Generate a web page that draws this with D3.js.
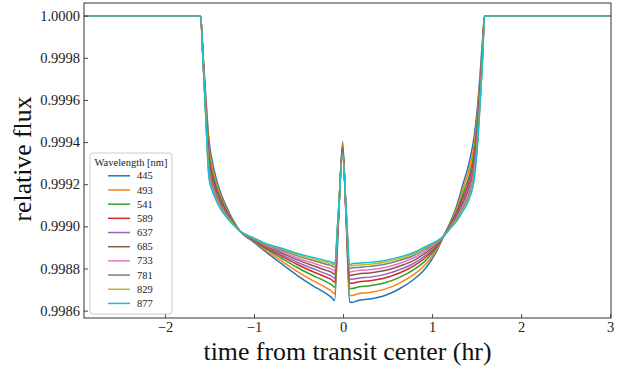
<!DOCTYPE html>
<html>
<head>
<meta charset="utf-8">
<script src="https://cdn.jsdelivr.net/npm/d3@7"></script>
<style>
  body { margin: 0; background: #fff; }
  text { font-family: "Liberation Serif", "DejaVu Serif", serif; }
</style>
</head>
<body>
<script>
// time from transit center (hr), shared by all curves
let time = [-2.91, -1.600, -1.573, -1.551, -1.528, -1.506, -1.472, -1.427, -1.382, -1.315, -1.236, -1.152,
    -1.000, -0.895, -0.700, -0.520, -0.350, -0.180, -0.130, -0.095, -0.055, -0.005, 0.035, 0.075, 0.100, 0.170, 0.300,
    0.470, 0.640, 0.800, 0.920, 1.000, 1.070, 1.130, 1.200, 1.270, 1.348, 1.416, 1.472, 1.506, 1.539,
    1.567, 1.590, 3.01];

let wavelengths = [445, 493, 541, 589, 637, 685, 733, 781, 829, 877];

// relative flux, one list per wavelength
let flux445 = [1, 1, 0.999822, 0.999674, 0.999529, 0.999410, 0.999315, 0.999230, 0.999168, 0.999097, 0.999030, 0.998975,
    0.998924, 0.998888, 0.998825, 0.998769, 0.998721, 0.998678, 0.998663, 0.998648, 0.998983, 0.999402, 0.999027, 0.998641, 0.998639, 0.998648, 0.998655,
    0.998672, 0.998705, 0.998750, 0.998798, 0.998845, 0.998898, 0.998954, 0.999016, 0.999090, 0.999201, 0.999301, 0.999425, 0.999550, 0.999719,
    0.999887, 1, 1];
let flux493 = [1, 1, 0.999815, 0.999661, 0.999503, 0.999377, 0.999289, 0.999211, 0.999153, 0.999088, 0.999026, 0.998975,
    0.998928, 0.998894, 0.998838, 0.998788, 0.998745, 0.998706, 0.998693, 0.998680, 0.998995, 0.999390, 0.999037, 0.998673, 0.998672, 0.998680, 0.998686,
    0.998702, 0.998732, 0.998773, 0.998817, 0.998858, 0.998904, 0.998954, 0.999011, 0.999078, 0.999178, 0.999270, 0.999388, 0.999516, 0.999693,
    0.999869, 1, 1];
let flux541 = [1, 1, 0.999808, 0.999647, 0.999478, 0.999345, 0.999263, 0.999192, 0.999139, 0.999079, 0.999022, 0.998975,
    0.998931, 0.998901, 0.998851, 0.998806, 0.998769, 0.998735, 0.998723, 0.998711, 0.999007, 0.999378, 0.999046, 0.998705, 0.998705, 0.998712, 0.998718,
    0.998732, 0.998759, 0.998796, 0.998835, 0.998872, 0.998911, 0.998954, 0.999006, 0.999065, 0.999155, 0.999239, 0.999351, 0.999482, 0.999667,
    0.999851, 1, 1];
let flux589 = [1, 1, 0.999802, 0.999637, 0.999457, 0.999319, 0.999243, 0.999177, 0.999127, 0.999072, 0.999019, 0.998975,
    0.998934, 0.998905, 0.998861, 0.998820, 0.998787, 0.998757, 0.998747, 0.998736, 0.999016, 0.999368, 0.999053, 0.998730, 0.998730, 0.998736, 0.998742,
    0.998755, 0.998780, 0.998814, 0.998850, 0.998882, 0.998916, 0.998954, 0.999002, 0.999055, 0.999137, 0.999215, 0.999322, 0.999455, 0.999647,
    0.999837, 1, 1];
let flux637 = [1, 1, 0.999798, 0.999630, 0.999443, 0.999301, 0.999229, 0.999166, 0.999119, 0.999067, 0.999017, 0.998975,
    0.998936, 0.998909, 0.998868, 0.998831, 0.998801, 0.998773, 0.998764, 0.998754, 0.999023, 0.999361, 0.999059, 0.998748, 0.998749, 0.998754, 0.998759,
    0.998772, 0.998795, 0.998826, 0.998860, 0.998889, 0.998920, 0.998954, 0.998999, 0.999049, 0.999124, 0.999198, 0.999302, 0.999436, 0.999633,
    0.999827, 1, 1];
let flux685 = [1, 1, 0.999794, 0.999621, 0.999427, 0.999281, 0.999213, 0.999155, 0.999110, 0.999061, 0.999015, 0.998975,
    0.998938, 0.998913, 0.998876, 0.998842, 0.998815, 0.998790, 0.998782, 0.998773, 0.999031, 0.999354, 0.999065, 0.998767, 0.998769, 0.998774, 0.998779,
    0.998790, 0.998812, 0.998840, 0.998872, 0.998898, 0.998924, 0.998954, 0.998996, 0.999041, 0.999110, 0.999179, 0.999279, 0.999415, 0.999617,
    0.999816, 1, 1];
let flux733 = [1, 1, 0.999790, 0.999615, 0.999415, 0.999265, 0.999200, 0.999145, 0.999103, 0.999057, 0.999013, 0.998975,
    0.998940, 0.998916, 0.998883, 0.998851, 0.998827, 0.998804, 0.998797, 0.998789, 0.999037, 0.999348, 0.999069, 0.998783, 0.998785, 0.998790, 0.998794,
    0.998805, 0.998825, 0.998852, 0.998881, 0.998904, 0.998927, 0.998954, 0.998994, 0.999035, 0.999099, 0.999163, 0.999261, 0.999398, 0.999605,
    0.999807, 1, 1];
let flux781 = [1, 1, 0.999786, 0.999608, 0.999402, 0.999249, 0.999187, 0.999136, 0.999096, 0.999052, 0.999011, 0.998975,
    0.998942, 0.998919, 0.998889, 0.998861, 0.998839, 0.998819, 0.998813, 0.998805, 0.999043, 0.999342, 0.999074, 0.998799, 0.998802, 0.998805, 0.998810,
    0.998820, 0.998839, 0.998863, 0.998891, 0.998911, 0.998930, 0.998954, 0.998991, 0.999029, 0.999087, 0.999148, 0.999242, 0.999381, 0.999592,
    0.999798, 1, 1];
let flux829 = [1, 1, 0.999784, 0.999604, 0.999393, 0.999238, 0.999178, 0.999129, 0.999091, 0.999049, 0.999010, 0.998975,
    0.998943, 0.998921, 0.998893, 0.998867, 0.998847, 0.998828, 0.998823, 0.998815, 0.999047, 0.999337, 0.999077, 0.998810, 0.998813, 0.998816, 0.998820,
    0.998830, 0.998848, 0.998871, 0.998897, 0.998915, 0.998932, 0.998954, 0.998989, 0.999024, 0.999079, 0.999138, 0.999230, 0.999369, 0.999583,
    0.999792, 1, 1];
let flux877 = [1, 1, 0.999782, 0.999600, 0.999386, 0.999229, 0.999171, 0.999124, 0.999087, 0.999047, 0.999009, 0.998975,
    0.998944, 0.998923, 0.998897, 0.998872, 0.998854, 0.998836, 0.998831, 0.998824, 0.999050, 0.999334, 0.999080, 0.998819, 0.998822, 0.998825, 0.998829,
    0.998838, 0.998855, 0.998877, 0.998902, 0.998919, 0.998934, 0.998954, 0.998988, 0.999021, 0.999073, 0.999129, 0.999220, 0.999360, 0.999576,
    0.999787, 1, 1];

let xTicks = [-2, -1, 0, 1, 2, 3];
let yTicks = [0.9986, 0.9988, 0.9990, 0.9992, 0.9994, 0.9996, 0.9998, 1.0000];

let colors = ["#1f77b4", "#ff7f0e", "#2ca02c", "#d62728", "#9467bd",
    "#8c564b", "#e377c2", "#7f7f7f", "#bcbd22", "#17becf"];

let allFlux = [flux445, flux493, flux541, flux589, flux637, flux685, flux733, flux781, flux829, flux877];
let series = wavelengths.map(function(w, i) {
    return { wl: w, color: colors[i], pts: time.map(function(t, j) { return [t, allFlux[i][j]]; }) };
});

// page and plot box
let W = 623, H = 369;
let plotL = 84, plotR = 611, plotT = 3, plotB = 318;

let svg = d3.select("body").append("svg")
    .attr("width", W)
    .attr("height", H);

let x = d3.scaleLinear().domain([-2.91, 3.01]).range([plotL, plotR]);
let y = d3.scaleLinear().domain([0.998565, 1.00006]).range([plotB, plotT]);

svg.append("clipPath").attr("id", "plot")
    .append("rect")
    .attr("x", plotL).attr("y", plotT)
    .attr("width", plotR - plotL).attr("height", plotB - plotT);

let line = d3.line()
    .curve(d3.curveMonotoneX)
    .x(function(d) { return x(d[0]); })
    .y(function(d) { return y(d[1]); });

// curves, shortest wavelength first so 877 ends on top
svg.append("g").attr("clip-path", "url(#plot)")
    .selectAll("path")
    .data(series)
    .enter()
    .append("path")
    .attr("d", function(d) { return line(d.pts); })
    .attr("fill", "none")
    .attr("stroke", function(d) { return d.color; })
    .attr("stroke-width", 1.5)
    .attr("stroke-linejoin", "round");

// axes with inward ticks
let xAxis = svg.append("g")
    .attr("transform", "translate(0," + plotB + ")")
    .call(d3.axisBottom(x).tickValues(xTicks).tickSize(-4).tickPadding(3.5).tickFormat(d3.format("d")));
let yAxis = svg.append("g")
    .attr("transform", "translate(" + plotL + ",0)")
    .call(d3.axisLeft(y).tickValues(yTicks).tickSize(-4).tickPadding(4).tickFormat(d3.format(".4f")));

[xAxis, yAxis].forEach(function(g) {
    g.attr("font-family", null);
    g.select(".domain").remove();
    g.selectAll(".tick line").attr("stroke", "#333").attr("stroke-width", 0.9);
    g.selectAll(".tick text")
        .attr("fill", "#222")
        .style("font-family", "'Liberation Serif', serif")
        .style("font-size", "14.5px");
});

// frame
svg.append("rect")
    .attr("x", plotL).attr("y", plotT)
    .attr("width", plotR - plotL).attr("height", plotB - plotT)
    .attr("fill", "none")
    .attr("stroke", "#333")
    .attr("stroke-width", 1);

// axis titles
svg.append("text")
    .attr("x", (plotL + plotR) / 2)
    .attr("y", 360)
    .attr("text-anchor", "middle")
    .attr("textLength", 288)
    .attr("lengthAdjust", "spacingAndGlyphs")
    .style("font-size", "25px")
    .attr("fill", "#111")
    .text("time from transit center (hr)");

svg.append("text")
    .attr("transform", "translate(31,159) rotate(-90)")
    .attr("text-anchor", "middle")
    .attr("textLength", 125)
    .attr("lengthAdjust", "spacingAndGlyphs")
    .style("font-size", "25px")
    .attr("fill", "#111")
    .text("relative flux");

// legend
let lg = svg.append("g");
lg.append("rect")
    .attr("x", 90).attr("y", 153)
    .attr("width", 82).attr("height", 161)
    .attr("rx", 3)
    .attr("fill", "#fff").attr("fill-opacity", 0.8)
    .attr("stroke", "#ccc").attr("stroke-width", 1);

lg.append("text")
    .attr("x", 131).attr("y", 165.5)
    .attr("text-anchor", "middle")
    .style("font-size", "10.5px")
    .attr("fill", "#222")
    .text("Wavelength [nm]");

let item = lg.selectAll(".item")
    .data(series)
    .enter()
    .append("g")
    .attr("class", "item")
    .attr("transform", function(d, i) { return "translate(0," + (175.8 + i * 14.18) + ")"; });

item.append("line")
    .attr("x1", 108).attr("x2", 130)
    .attr("stroke", function(d) { return d.color; })
    .attr("stroke-width", 1.5);

item.append("text")
    .attr("x", 137).attr("y", 3.6)
    .style("font-size", "10.5px")
    .attr("fill", "#222")
    .text(function(d) { return d.wl; });
</script>
</body>
</html>
